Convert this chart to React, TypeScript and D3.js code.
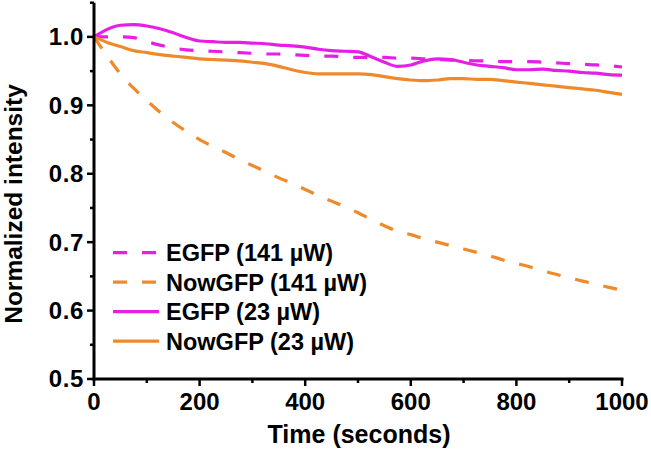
import React from "react";
import * as d3 from "d3";

const TIMES = [0,25,50,75,100,125,150,175,200,225,250,275,300,325,350,375,400,425,450,475,500,525,550,575,600,625,650,675,700,725,750,775,800,825,850,875,900,925,950,975,1000];

const EGFP_141 = [1.000,1.000,1.000,0.999,0.993,0.988,0.984,0.981,0.980,0.979,0.978,0.977,0.976,0.975,0.975,0.974,0.973,0.972,0.972,0.971,0.970,0.970,0.970,0.969,0.969,0.968,0.967,0.966,0.966,0.965,0.965,0.964,0.964,0.964,0.963,0.962,0.961,0.960,0.959,0.958,0.956];

const NOWGFP_141 = [1.000,0.972,0.946,0.925,0.907,0.890,0.875,0.862,0.850,0.840,0.831,0.821,0.812,0.803,0.794,0.786,0.777,0.768,0.760,0.752,0.743,0.733,0.724,0.716,0.711,0.705,0.700,0.695,0.690,0.685,0.680,0.674,0.669,0.664,0.658,0.653,0.648,0.643,0.639,0.634,0.630];

const EGFP_23 = [1.000,1.011,1.017,1.018,1.016,1.012,1.006,0.999,0.994,0.993,0.992,0.992,0.991,0.990,0.988,0.987,0.985,0.982,0.980,0.979,0.978,0.971,0.963,0.957,0.959,0.965,0.968,0.967,0.963,0.959,0.957,0.955,0.952,0.952,0.953,0.951,0.950,0.948,0.947,0.945,0.944];

const NOWGFP_23 = [1.000,0.992,0.986,0.980,0.977,0.974,0.972,0.970,0.968,0.967,0.966,0.965,0.963,0.961,0.957,0.952,0.948,0.946,0.946,0.946,0.946,0.945,0.942,0.939,0.937,0.936,0.937,0.939,0.939,0.938,0.938,0.936,0.934,0.932,0.930,0.928,0.926,0.924,0.922,0.919,0.916];

const X_TICKS = [0, 200, 400, 600, 800, 1000];
const X_MINOR = [100, 300, 500, 700, 900];
const Y_TICKS = [0.5, 0.6, 0.7, 0.8, 0.9, 1.0];
const Y_MINOR = [0.55, 0.65, 0.75, 0.85, 0.95, 1.05];

const MAGENTA = "#e61ee6";
const ORANGE = "#ef8a2b";

const SERIES = [
  { name: "EGFP (141 \u00b5W)", values: EGFP_141, color: MAGENTA, dashed: true },
  { name: "NowGFP (141 \u00b5W)", values: NOWGFP_141, color: ORANGE, dashed: true },
  { name: "EGFP (23 \u00b5W)", values: EGFP_23, color: MAGENTA, dashed: false },
  { name: "NowGFP (23 \u00b5W)", values: NOWGFP_23, color: ORANGE, dashed: false },
];

const FONT = "'Liberation Sans', Arial, Helvetica, sans-serif";

export default function App() {
  const x = d3.scaleLinear().domain([0, 1000]).range([94, 622]);
  const y = d3.scaleLinear().domain([0.5, 1.05]).range([379, 2.7]);
  const line = d3
    .line<number>()
    .x((_, i) => x(TIMES[i]))
    .y((v) => y(v))
    .curve(d3.curveMonotoneX);

  const legendY0 = 252.7;
  const legendStep = 29.5;

  return (
    <svg
      width={651}
      height={450}
      style={{ position: "absolute", left: 0, top: 0, background: "#fff" }}
      fontFamily={FONT}
      fontWeight="bold"
    >
      <rect x={0} y={0} width={651} height={450} fill="#fff" />
      {SERIES.map((s, k) => (
        <path
          key={k}
          d={line(s.values) || ""}
          fill="none"
          stroke={s.color}
          strokeWidth={3.2}
          strokeDasharray={s.dashed ? "14,15" : undefined}
        />
      ))}
      <line x1={x(0)} x2={x(0)} y1={y(1.05)} y2={y(0.5) + 1.5} stroke="#000" strokeWidth={3} />
      <line x1={x(0) - 1.5} x2={x(1000) + 1.5} y1={y(0.5)} y2={y(0.5)} stroke="#000" strokeWidth={3} />
      {X_TICKS.map((t) => (
        <g key={"xt" + t}>
          <line x1={x(t)} x2={x(t)} y1={y(0.5)} y2={y(0.5) + 7} stroke="#000" strokeWidth={2.5} />
          <text x={x(t)} y={409.5} textAnchor="middle" fontSize={24}>
            {t}
          </text>
        </g>
      ))}
      {X_MINOR.map((t) => (
        <line key={"xm" + t} x1={x(t)} x2={x(t)} y1={y(0.5)} y2={y(0.5) + 4} stroke="#000" strokeWidth={2.5} />
      ))}
      {Y_TICKS.map((v) => (
        <g key={"yt" + v}>
          <line x1={x(0) - 7} x2={x(0)} y1={y(v)} y2={y(v)} stroke="#000" strokeWidth={2.5} />
          <text x={84} y={y(v) + 8.4} textAnchor="end" fontSize={24} letterSpacing={0.6}>
            {v.toFixed(1)}
          </text>
        </g>
      ))}
      {Y_MINOR.map((v) => (
        <line key={"ym" + v} x1={x(0) - 4} x2={x(0)} y1={y(v)} y2={y(v)} stroke="#000" strokeWidth={2.5} />
      ))}
      <text x={359} y={443} textAnchor="middle" fontSize={25}>
        Time (seconds)
      </text>
      <text transform="translate(22,204) rotate(-90)" textAnchor="middle" fontSize={24.5}>
        Normalized intensity
      </text>
      {SERIES.map((s, k) => {
        const cy = legendY0 + k * legendStep;
        return (
          <g key={"lg" + k}>
            <line
              x1={113}
              x2={159}
              y1={cy}
              y2={cy}
              stroke={s.color}
              strokeWidth={3.2}
              strokeDasharray={s.dashed ? "14,15" : undefined}
            />
            <text x={166} y={cy + 8.4} fontSize={23.5}>
              {s.name}
            </text>
          </g>
        );
      })}
    </svg>
  );
}
